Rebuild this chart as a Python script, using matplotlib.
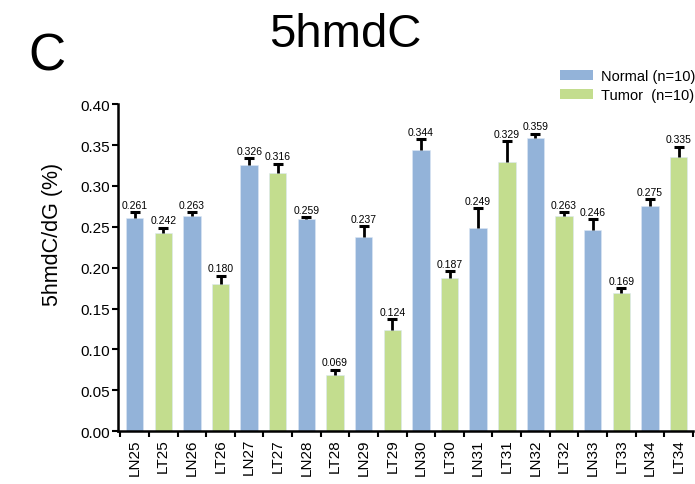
import numpy as np
import matplotlib.pyplot as plt
from matplotlib.patches import Patch

plt.rcParams['font.family'] = ['Liberation Sans', 'DejaVu Sans']

# sample names, alternating normal (LN) / tumor (LT)
samples = ['LN25', 'LT25', 'LN26', 'LT26', 'LN27', 'LT27', 'LN28', 'LT28',
           'LN29', 'LT29', 'LN30', 'LT30', 'LN31', 'LT31', 'LN32', 'LT32',
           'LN33', 'LT33', 'LN34', 'LT34']
values = [0.261, 0.242, 0.263, 0.180, 0.326, 0.316, 0.259, 0.069,
          0.237, 0.124, 0.344, 0.187, 0.249, 0.329, 0.359, 0.263,
          0.246, 0.169, 0.275, 0.335]
errors = [0.007, 0.007, 0.005, 0.010, 0.008, 0.011, 0.003, 0.006,
          0.014, 0.013, 0.013, 0.009, 0.024, 0.026, 0.005, 0.005,
          0.013, 0.006, 0.009, 0.013]

blue = '#93b3d9'
green = '#c3dd8e'
colors = [blue if s.startswith('LN') else green for s in samples]

fig = plt.figure(figsize=(6.95, 4.85), dpi=100)
ax = fig.add_axes([0.170, 0.109, 0.827, 0.674])

x = np.arange(len(samples))
vals = np.array(values)
errs = np.array(errors)
ax.bar(x, vals, width=0.61, color=colors, edgecolor='#dce8f4', linewidth=0.4, zorder=2)

# upper-only error bars with a cap on top
ax.vlines(x, vals, vals + errs, color='black', linewidth=2.0, zorder=3)
ax.plot(x, vals + errs, linestyle='none', marker='_', markersize=6.5,
        markeredgewidth=2.2, color='black', zorder=3)

for xi, v, e in zip(x, vals, errs):
    ax.text(xi, v + e + 0.003, f'{v:.3f}', ha='center', va='bottom', fontsize=7.5)

ax.set_xlim(-0.575, 19.5)
ax.set_ylim(0, 0.40)
yt = np.arange(0, 0.401, 0.05)
ax.set_yticks(yt)
ax.set_yticklabels([f'{t:.2f}' for t in yt], fontsize=11)
ax.set_xticks(x)
ax.set_xticklabels(samples, rotation=90, fontsize=11)
ax.tick_params(axis='x', which='major', length=0, pad=5)
ax.set_xticks(np.arange(-0.5, 19.6, 1), minor=True)
ax.tick_params(axis='x', which='minor', length=4, width=1.5, direction='out')
ax.tick_params(axis='y', length=4, width=1.5, direction='out', pad=2)

for side in ['top', 'right']:
    ax.spines[side].set_visible(False)
for side in ['left', 'bottom']:
    ax.spines[side].set_linewidth(1.8)

ax.set_ylabel('5hmdC/dG (%)', fontsize=15.5)
ax.yaxis.set_label_coords(-0.096, 0.606)

fig.text(0.497, 0.928, '5hmdC', ha='center', va='center', fontsize=34)
fig.text(0.068, 0.883, 'C', ha='center', va='center', fontsize=37)

handles = [Patch(facecolor=blue, label='Normal (n=10)'),
           Patch(facecolor=green, label='Tumor  (n=10)')]
fig.legend(handles=handles, loc='upper right', bbox_to_anchor=(1.02, 0.882),
           frameon=False, fontsize=10.5, handlelength=2.3, handleheight=0.7,
           handletextpad=0.55, labelspacing=0.35)

fig.savefig('out.png', dpi=100)
